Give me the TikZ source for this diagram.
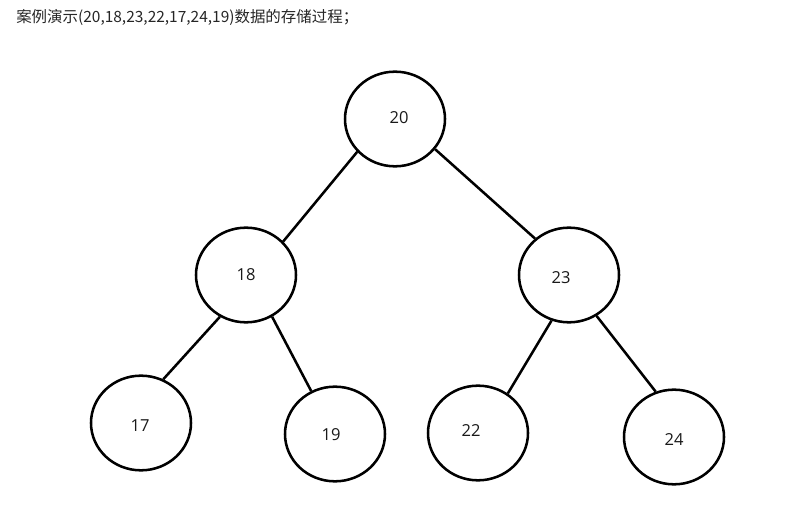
\documentclass[tikz,border=0pt]{standalone}
\usepackage{fontspec}
\setmainfont{Open Sans}
\newfontfamily\cjk{Noto Sans CJK SC}
\usetikzlibrary{shapes.geometric}
\begin{document}
\begin{tikzpicture}[x=0.75pt,y=-0.75pt,
  circ/.style={draw, ellipse, line width=1.9pt, minimum width=75pt, minimum height=71pt, inner sep=0pt},
  num/.style={font=\fontsize{12.4}{14}\selectfont, text=black!90, inner sep=0pt},
  edge/.style={line width=1.9pt}]
\useasboundingbox (0,0) rectangle (809,509);
\node[anchor=west, inner sep=0pt, font=\cjk\fontsize{11.6}{13}\selectfont, text=black!85] (title) at (16,17) {案例演示(20,18,23,22,17,24,19)数据的存储过程；};
\node[circ] (n20) at (395,119) {};
\node[circ] (n18) at (246,275) {};
\node[circ] (n23) at (569,275) {};
\node[circ] (n17) at (141,423) {};
\node[circ] (n19) at (335,434) {};
\node[circ] (n22) at (478,433) {};
\node[circ] (n24) at (674,437) {};
\node[num] (t20) at (399,118) {20};
\node[num] (t18) at (246,275) {18};
\node[num] (t23) at (561,278) {23};
\node[num] (t17) at (140,426) {17};
\node[num] (t19) at (331,435) {19};
\node[num] (t22) at (471,431) {22};
\node[num] (t24) at (674,440) {24};
\draw[edge] (n20.221) -- (n18.42);
\draw[edge] (n20.323) -- (n23.133);
\draw[edge] (n18.238) -- (n17.63);
\draw[edge] (n18.302) -- (n19.119);
\draw[edge] (n23.249) -- (n22.53);
\draw[edge] (n23.304) -- (n24.112);
\end{tikzpicture}
\end{document}
